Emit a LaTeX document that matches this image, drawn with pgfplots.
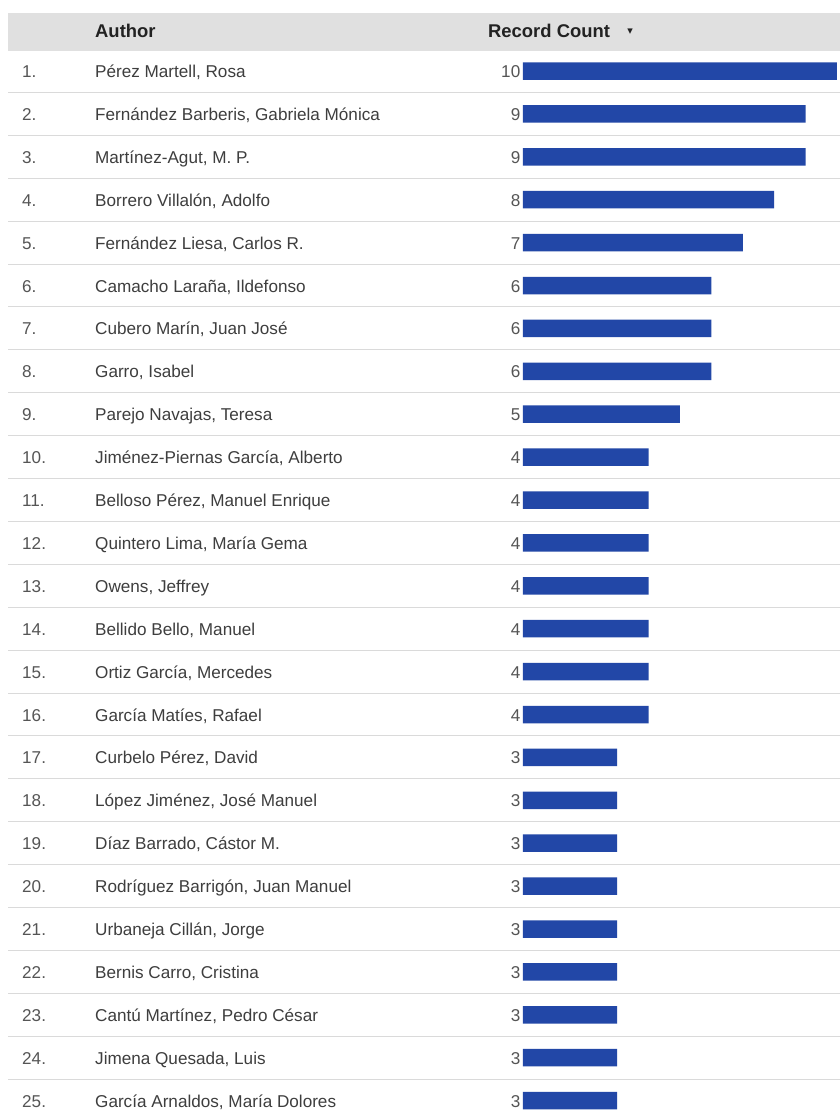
\documentclass[border=0pt]{standalone}
\usepackage{fontspec}
\setmainfont{Liberation Sans}
\newfontfamily\sym{DejaVu Sans}
\usepackage{pgfplots}
\usepackage{pgfplotstable}
\pgfplotsset{compat=1.18}
\definecolor{barblue}{RGB}{34,71,167}
\definecolor{hdr}{RGB}{224,224,224}
\definecolor{rulec}{RGB}{218,218,218}
\definecolor{txt}{RGB}{62,62,62}
\definecolor{numtxt}{RGB}{85,85,85}
\definecolor{hdtxt}{RGB}{34,34,34}

\pgfplotstableread[col sep=semicolon]{
idx;rank;name;count
1;1.;Pérez Martell, Rosa;10
2;2.;Fernández Barberis, Gabriela Mónica;9
3;3.;Martínez-Agut, M. P.;9
4;4.;Borrero Villalón, Adolfo;8
5;5.;Fernández Liesa, Carlos R.;7
6;6.;Camacho Laraña, Ildefonso;6
7;7.;Cubero Marín, Juan José;6
8;8.;Garro, Isabel;6
9;9.;Parejo Navajas, Teresa;5
10;10.;Jiménez-Piernas García, Alberto;4
11;11.;Belloso Pérez, Manuel Enrique;4
12;12.;Quintero Lima, María Gema;4
13;13.;Owens, Jeffrey;4
14;14.;Bellido Bello, Manuel;4
15;15.;Ortiz García, Mercedes;4
16;16.;García Matíes, Rafael;4
17;17.;Curbelo Pérez, David;3
18;18.;López Jiménez, José Manuel;3
19;19.;Díaz Barrado, Cástor M.;3
20;20.;Rodríguez Barrigón, Juan Manuel;3
21;21.;Urbaneja Cillán, Jorge;3
22;22.;Bernis Carro, Cristina;3
23;23.;Cantú Martínez, Pedro César;3
24;24.;Jimena Quesada, Luis;3
25;25.;García Arnaldos, María Dolores;3
}\authors

\begin{document}
\begin{tikzpicture}
\begin{axis}[
  name=main,
  scale only axis, width=840bp, height=1111bp,
  xmin=-16.656, xmax=10.096,
  ymin=-0.655, ymax=25.242, y dir=reverse,
  hide axis, clip=false,
]
\fill[white] (rel axis cs:0,0) rectangle (rel axis cs:1,1);
\fill[hdr] (axis cs:-16.40,-0.352) rectangle (axis cs:10.096,0.534);
\pgfplotsinvokeforeach{1,...,24}{
  \draw[rulec, line width=1bp] (axis cs:-16.40,#1+0.5) -- (axis cs:10.096,#1+0.5);
}
\node[anchor=base west, inner sep=0pt, text=hdtxt, font=\fontsize{18.5}{20}\bfseries] at (axis cs:-13.631,0.23) {Author};
\node[anchor=base west, inner sep=0pt, text=hdtxt, font=\fontsize{18.5}{20}\bfseries] at (axis cs:-1.115,0.23) {Record Count};
\node[anchor=center, inner sep=0pt, text=hdtxt, font=\sym\fontsize{11}{12}\selectfont] at (axis cs:3.41,0.09) {▾};

\addplot[xbar, bar width=17.5bp, bar shift=0pt, fill=barblue, draw=none]
  table[x=count, y=idx] {\authors};

\addplot[draw=none, nodes near coords, point meta=explicit symbolic,
  every node near coord/.style={anchor=base east, inner sep=0pt, xshift=-2.5bp, yshift=-6.5bp, text=numtxt, font=\fontsize{17.2}{20}\selectfont}]
  table[x expr=0, y=idx, meta=count] {\authors};

\addplot[draw=none, nodes near coords, point meta=explicit symbolic,
  every node near coord/.style={anchor=base west, inner sep=0pt, yshift=-6.5bp, text=numtxt, font=\fontsize{17.2}{20}\selectfont}]
  table[x expr=-15.955, y=idx, meta=rank] {\authors};

\addplot[draw=none, nodes near coords, point meta=explicit symbolic,
  every node near coord/.style={anchor=base west, inner sep=0pt, yshift=-6.5bp, text=txt, font=\fontsize{17.2}{20}\selectfont}]
  table[x expr=-13.631, y=idx, meta=name] {\authors};
\end{axis}
\pgfresetboundingbox
\useasboundingbox (main.south west) rectangle (main.north east);
\end{tikzpicture}
\end{document}
